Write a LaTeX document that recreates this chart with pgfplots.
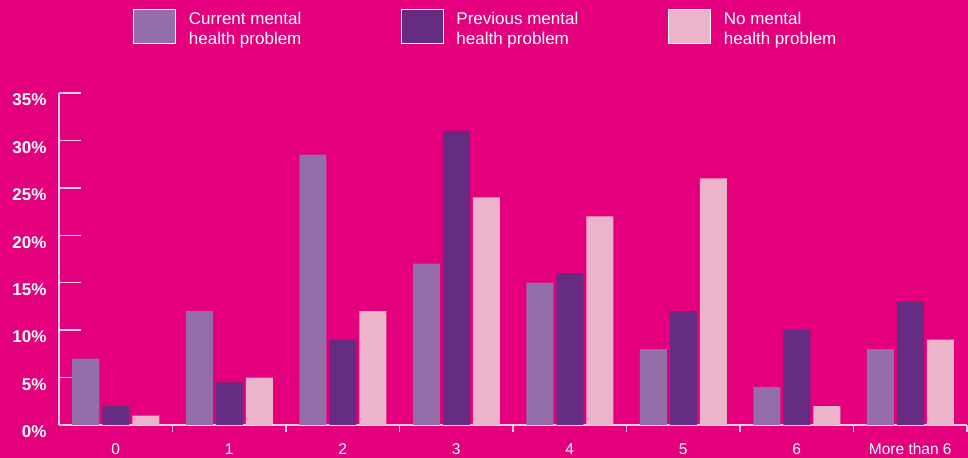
\documentclass[border=0pt]{standalone}
\usepackage{fontspec}
\setmainfont{Liberation Sans}
\usepackage{pgfplots}
\pgfplotsset{compat=1.18}
\definecolor{bg}{RGB}{228,0,124}
\definecolor{cur}{RGB}{147,110,168}
\definecolor{prev}{RGB}{102,44,130}
\definecolor{nomh}{RGB}{236,180,203}
\definecolor{axisc}{RGB}{246,205,224}
\pgfplotsset{legsq/.style={legend image code/.code={%
  \path (0bp,25bp);
  \path[fill, draw=white, line width=0.9bp] (0bp,-24bp) rectangle (42bp,10bp);}}}
\begin{document}
\begin{tikzpicture}
\path[use as bounding box, fill=bg] (0,0) rectangle (968bp,458bp);
\begin{axis}[
  at={(59bp,33bp)}, anchor=south west,
  scale only axis, width=908bp, height=332bp,
  xmin=-0.5, xmax=7.5, ymin=0, ymax=35,
  enlargelimits=false,
  axis x line*=bottom, axis y line*=left,
  axis line style={draw=axisc, line width=1.3bp, -},
  ytick={0,5,...,35},
  yticklabel={\pgfmathprintnumber{\tick}\%},
  tick align=inside,
  major tick length=22bp,
  minor tick length=7bp,
  xtick={0,...,7},
  xticklabels={0,1,2,3,4,5,6,More than 6},
  minor xtick={0.5,1.5,...,7.5},
  major x tick style={draw=none},
  minor x tick style={draw=axisc, line width=1.3bp},
  ytick style={draw=axisc, line width=1.3bp},
  /pgf/number format/assume math mode=true,
  yticklabel style={font=\fontsize{17bp}{17bp}\selectfont\bfseries, text=white, xshift=-9bp, yshift=-7bp},
  xticklabel style={font=\fontsize{15.5bp}{16bp}\selectfont, text=white, anchor=base, yshift=-8bp},
  ybar=3bp, bar width=27bp,
  legend columns=3,
  legend style={draw=none, fill=none, inner sep=0pt,
    at={(rel axis cs:0.0818,1.2973)}, anchor=north west,
    font=\fontsize{17bp}{19.3bp}\selectfont, text=white,
    cells={anchor=center},
    nodes={inner sep=0pt},
    /tikz/every odd column/.append style={column sep=12.6bp},
    /tikz/every even column/.append style={column sep=12bp}},
]
\addplot[fill=cur, draw=none, legsq] coordinates {(0,7) (1,12) (2,28.5) (3,17) (4,15) (5,8) (6,4) (7,8)};
\addlegendentry{\parbox[t]{200bp}{\raggedright Current mental\\health problem}}
\addplot[fill=prev, draw=none, legsq] coordinates {(0,2) (1,4.5) (2,9) (3,31) (4,16) (5,12) (6,10) (7,13)};
\addlegendentry{\parbox[t]{200bp}{\raggedright Previous mental\\health problem}}
\addplot[fill=nomh, draw=none, legsq] coordinates {(0,1) (1,5) (2,12) (3,24) (4,22) (5,26) (6,2) (7,9)};
\addlegendentry{\parbox[t]{200bp}{\raggedright No mental\\health problem}}
\end{axis}
\end{tikzpicture}
\end{document}
